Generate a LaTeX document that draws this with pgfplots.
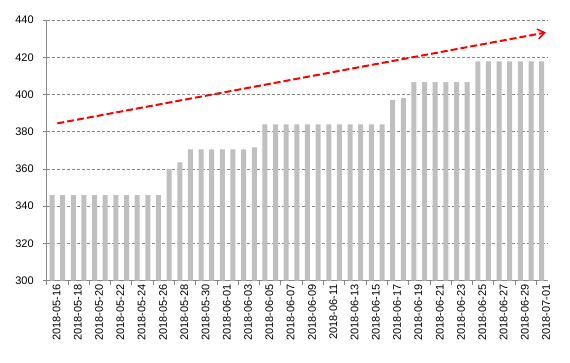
\documentclass[border=0pt]{standalone}
\usepackage{pgfplots}
\pgfplotsset{compat=1.18}
\usepackage{fontspec}
\setmainfont{Liberation Sans}
\usetikzlibrary{arrows.meta}
\definecolor{barg}{HTML}{BFBFBF}
\definecolor{axg}{HTML}{868686}
\begin{document}
\begin{tikzpicture}
\useasboundingbox (-46.7pt,-82pt) rectangle (523.3pt,280.7pt);
\begin{axis}[
  at={(0,0)}, anchor=south west,
  scale only axis, width=500.3pt, height=260.7pt,
  xmin=-0.5, xmax=46.5, ymin=300, ymax=440,
  axis x line*=bottom, axis y line*=left,
  axis line style={axg, line width=0.8pt},
  ytick={300,320,...,440},
  ymajorgrids,
  major grid style={axg, dash pattern=on 3pt off 2pt, line width=0.6pt},
  tick align=outside,
  major tick length=4pt,
  tick style={axg, line width=0.8pt},
  xtick={-0.5,1.5,...,45.5},
  xticklabels={},
  extra x ticks={0,2,...,46},
  extra x tick labels={2018-05-16,2018-05-18,2018-05-20,2018-05-22,2018-05-24,2018-05-26,2018-05-28,2018-05-30,2018-06-01,2018-06-03,2018-06-05,2018-06-07,2018-06-09,2018-06-11,2018-06-13,2018-06-15,2018-06-17,2018-06-19,2018-06-21,2018-06-23,2018-06-25,2018-06-27,2018-06-29,2018-07-01},
  extra x tick style={major tick length=0pt, xticklabel style={yshift=-4.5pt}},
  tick label style={font=\fontsize{11}{13}\selectfont, black},
  xticklabel style={rotate=90, anchor=east},
  yticklabel style={xshift=-5.5pt},
  /pgf/number format/assume math mode=true,
]
\addplot[ybar, fill=barg, draw=none, bar width=5pt] coordinates {
(0,346) (1,346) (2,346) (3,346) (4,346) (5,346) (6,346) (7,346) (8,346) (9,346) (10,346)
(11,360) (12,363.5)
(13,370.5) (14,370.5) (15,370.5) (16,370.5) (17,370.5) (18,370.5)
(19,371.6)
(20,384) (21,384) (22,384) (23,384) (24,384) (25,384) (26,384) (27,384) (28,384) (29,384) (30,384) (31,384)
(32,397) (33,398)
(34,406.7) (35,406.7) (36,406.7) (37,406.7) (38,406.7) (39,406.7)
(40,417.8) (41,417.8) (42,417.8) (43,417.8) (44,417.8) (45,417.8) (46,417.8)
};
\addplot[red, line width=2pt, dash pattern=on 7pt off 3pt, -{Straight Barb[length=7pt,width=10pt,line width=1.5pt]}] coordinates {(0.5,384.5) (46.4,433.3)};
\end{axis}
\end{tikzpicture}
\end{document}
